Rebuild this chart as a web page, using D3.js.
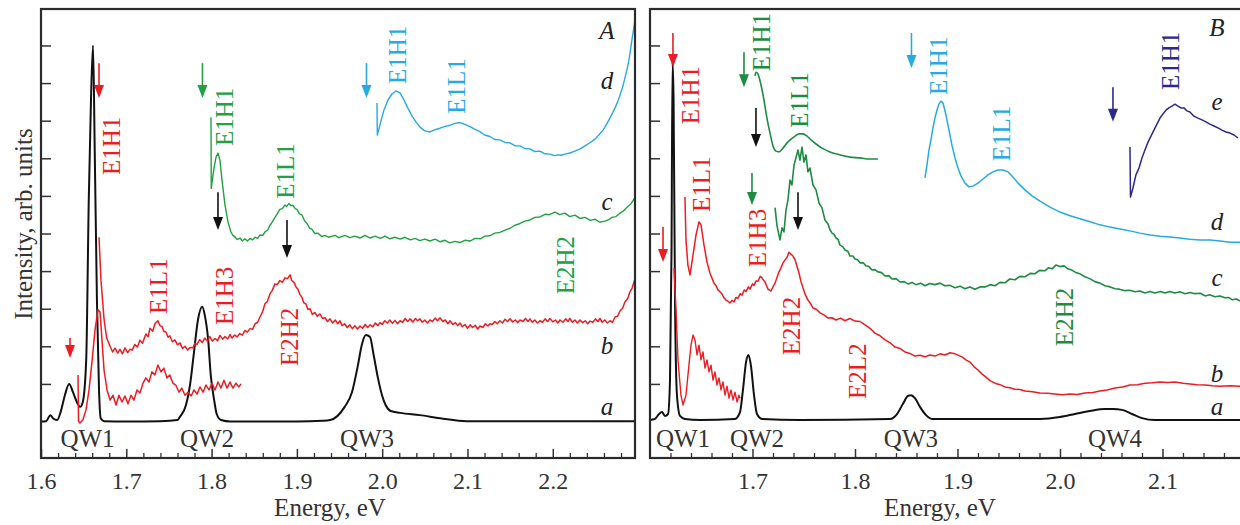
<!DOCTYPE html>
<html><head><meta charset="utf-8">
<script src="https://cdn.jsdelivr.net/npm/d3@7"></script>
<style>
html,body{margin:0;padding:0;background:#fff;}
svg{display:block;}
</style></head>
<body>
<svg id="chart" width="1240" height="525"></svg>
<script>
// ---------------- DATA (Energy eV, intensity arb. units) ----------------
// Panel A
const aA = [[1.600,0],[1.606,0.01],[1.611,0.17],[1.614,0.09],[1.619,0.04],[1.623,0.25],[1.628,0.70],[1.633,1.0],[1.6375,0.78],[1.642,0.52],[1.646,0.39],[1.649,0.52],[1.653,1.64],[1.656,5.9],[1.6586,8.55],[1.661,10.0],[1.663,7.2],[1.6656,3.2],[1.668,0.84],[1.670,0.09],[1.674,0.01],[1.70,0],[1.74,0.01],[1.76,0.04],[1.763,0.13],[1.770,0.44],[1.7747,0.97],[1.779,1.77],[1.784,2.70],[1.789,3.05],[1.792,2.83],[1.796,2.17],[1.799,1.24],[1.803,0.57],[1.806,0.2],[1.811,0.04],[1.822,0],[1.90,0],[1.93,0.02],[1.939,0.04],[1.956,0.39],[1.9646,0.78],[1.9716,1.5],[1.976,2.03],[1.981,2.30],[1.9857,2.25],[1.990,1.77],[1.995,1.16],[1.9998,0.70],[2.004,0.44],[2.010,0.28],[2.021,0.23],[2.044,0.17],[2.068,0.09],[2.099,0.01],[2.296,0.01]];
const bA = [[1.668,4.9],[1.6703,3.76],[1.674,2.70],[1.677,2.22],[1.681,2.0],[1.684,1.85],[1.6868,1.95],[1.690,1.82],[1.6926,1.92],[1.6955,1.80],[1.6985,1.96],[1.7015,1.83],[1.7043,1.92],[1.707,1.90],[1.710,2.05],[1.713,1.98],[1.716,2.16],[1.719,2.08],[1.723,2.33],[1.7255,2.25],[1.7278,2.48],[1.731,2.40],[1.7336,2.60],[1.737,2.68],[1.7395,2.55],[1.742,2.52],[1.744,2.40],[1.7465,2.38],[1.749,2.24],[1.751,2.28],[1.754,2.12],[1.757,2.17],[1.760,2.04],[1.763,2.09],[1.766,1.94],[1.7688,2.00],[1.772,1.90],[1.7747,1.97],[1.778,1.96],[1.7805,2.08],[1.783,2.05],[1.786,2.18],[1.789,2.10],[1.792,2.22],[1.795,2.14],[1.798,2.26],[1.801,2.14],[1.804,2.21],[1.807,2.15],[1.8098,2.29],[1.813,2.19],[1.8157,2.26],[1.819,2.20],[1.8216,2.31],[1.824,2.22],[1.827,2.30],[1.830,2.25],[1.833,2.34],[1.836,2.30],[1.839,2.42],[1.842,2.38],[1.845,2.47],[1.848,2.45],[1.851,2.60],[1.854,2.64],[1.8567,2.78],[1.8595,2.90],[1.8626,3.13],[1.8655,3.20],[1.8685,3.40],[1.871,3.48],[1.8743,3.66],[1.877,3.64],[1.880,3.75],[1.883,3.70],[1.886,3.82],[1.889,3.80],[1.892,3.90],[1.894,3.75],[1.8966,3.70],[1.899,3.58],[1.9013,3.52],[1.9035,3.38],[1.906,3.30],[1.908,3.16],[1.9107,3.12],[1.913,2.98],[1.9154,3.00],[1.918,2.85],[1.921,2.90],[1.924,2.80],[1.927,2.86],[1.930,2.74],[1.933,2.76],[1.936,2.66],[1.9388,2.73],[1.942,2.62],[1.945,2.70],[1.948,2.60],[1.9505,2.68],[1.953,2.55],[1.956,2.60],[1.959,2.50],[1.962,2.57],[1.965,2.47],[1.968,2.55],[1.971,2.46],[1.974,2.54],[1.977,2.48],[1.980,2.58],[1.983,2.50],[1.9857,2.57],[1.989,2.52],[1.992,2.62],[1.995,2.55],[1.9974,2.63],[2.000,2.58],[2.003,2.68],[2.006,2.62],[2.009,2.70],[2.012,2.61],[2.015,2.69],[2.018,2.60],[2.0209,2.68],[2.024,2.64],[2.027,2.74],[2.030,2.66],[2.0326,2.73],[2.036,2.65],[2.039,2.74],[2.0415,2.68],[2.0443,2.73],[2.047,2.64],[2.050,2.70],[2.053,2.62],[2.056,2.70],[2.059,2.66],[2.062,2.75],[2.065,2.68],[2.0678,2.76],[2.071,2.66],[2.074,2.70],[2.077,2.60],[2.0795,2.68],[2.083,2.58],[2.086,2.63],[2.0885,2.55],[2.0912,2.62],[2.094,2.52],[2.097,2.58],[2.100,2.48],[2.103,2.57],[2.106,2.50],[2.109,2.56],[2.112,2.46],[2.1146,2.54],[2.118,2.50],[2.121,2.60],[2.124,2.54],[2.1264,2.60],[2.129,2.58],[2.132,2.66],[2.135,2.60],[2.138,2.68],[2.141,2.62],[2.144,2.72],[2.147,2.66],[2.1498,2.73],[2.153,2.65],[2.156,2.70],[2.159,2.63],[2.1615,2.70],[2.165,2.66],[2.168,2.74],[2.171,2.66],[2.1733,2.73],[2.176,2.64],[2.179,2.70],[2.182,2.62],[2.185,2.68],[2.188,2.64],[2.191,2.73],[2.194,2.66],[2.1967,2.74],[2.200,2.65],[2.203,2.70],[2.206,2.62],[2.2084,2.70],[2.212,2.64],[2.215,2.73],[2.218,2.66],[2.220,2.74],[2.223,2.64],[2.226,2.70],[2.229,2.62],[2.2319,2.70],[2.235,2.63],[2.238,2.68],[2.241,2.60],[2.2436,2.67],[2.247,2.64],[2.250,2.73],[2.253,2.66],[2.2553,2.74],[2.258,2.64],[2.261,2.70],[2.264,2.62],[2.267,2.68],[2.270,2.64],[2.273,2.78],[2.276,2.80],[2.2788,2.94],[2.282,3.02],[2.2846,3.18],[2.288,3.28],[2.2905,3.45],[2.293,3.55],[2.2964,3.80]];
const b2A = [[1.6434,1.24],[1.644,0.01],[1.6457,-0.04],[1.649,0.04],[1.6528,0.31],[1.6563,0.84],[1.660,1.64],[1.6633,2.43],[1.6668,2.97],[1.6692,2.91],[1.6715,2.17],[1.6739,1.37],[1.6774,0.84],[1.681,0.57],[1.6844,0.70],[1.688,0.44],[1.6914,0.70],[1.695,0.52],[1.6985,0.68],[1.702,0.47],[1.7055,0.70],[1.709,0.57],[1.7125,0.84],[1.716,0.76],[1.7196,1.02],[1.723,1.16],[1.7266,1.05],[1.730,1.32],[1.7336,1.24],[1.737,1.50],[1.7407,1.32],[1.744,1.42],[1.7477,1.16],[1.751,1.24],[1.7547,1.02],[1.758,0.97],[1.7618,0.78],[1.765,0.89],[1.7688,0.70],[1.7723,0.78],[1.776,0.68],[1.7794,0.84],[1.783,0.73],[1.7864,0.92],[1.790,0.78],[1.7934,0.97],[1.797,0.84],[1.8005,1.02],[1.804,0.84],[1.8075,1.05],[1.811,0.89],[1.8145,1.10],[1.818,0.89],[1.8216,1.05],[1.825,0.89],[1.8286,1.02],[1.832,0.92],[1.8345,1.0]];
const cA = [[1.7993,8.09],[1.7996,6.2],[1.8028,6.74],[1.8052,7.03],[1.8075,7.14],[1.8098,6.95],[1.8122,6.42],[1.8157,5.76],[1.8192,5.31],[1.8227,5.04],[1.8250,4.95],[1.8274,4.91],[1.830,4.84],[1.8333,4.88],[1.836,4.80],[1.839,4.86],[1.842,4.80],[1.845,4.87],[1.848,4.83],[1.8509,4.90],[1.854,4.87],[1.8567,4.96],[1.860,4.95],[1.8626,5.04],[1.866,5.10],[1.8685,5.22],[1.871,5.30],[1.8743,5.43],[1.877,5.52],[1.880,5.64],[1.883,5.66],[1.886,5.76],[1.888,5.72],[1.8907,5.80],[1.893,5.74],[1.8954,5.75],[1.898,5.66],[1.900,5.64],[1.903,5.52],[1.906,5.49],[1.909,5.34],[1.9118,5.27],[1.915,5.14],[1.9177,5.11],[1.921,5.00],[1.9247,5.01],[1.929,4.92],[1.933,4.95],[1.937,4.90],[1.9447,4.95],[1.949,4.89],[1.9564,4.95],[1.962,4.89],[1.968,4.93],[1.974,4.88],[1.9798,4.95],[1.986,4.88],[1.9916,4.93],[1.998,4.87],[2.0033,4.93],[2.009,4.86],[2.015,4.90],[2.021,4.85],[2.0267,4.90],[2.033,4.83],[2.0385,4.87],[2.044,4.81],[2.050,4.85],[2.056,4.80],[2.062,4.85],[2.068,4.78],[2.0736,4.82],[2.079,4.75],[2.0853,4.79],[2.091,4.76],[2.097,4.82],[2.103,4.80],[2.1088,4.87],[2.115,4.86],[2.1205,4.93],[2.126,4.94],[2.132,5.01],[2.138,5.03],[2.144,5.09],[2.150,5.14],[2.1557,5.22],[2.161,5.26],[2.1674,5.33],[2.173,5.36],[2.179,5.43],[2.185,5.44],[2.1909,5.51],[2.196,5.50],[2.2026,5.57],[2.208,5.50],[2.2143,5.54],[2.220,5.45],[2.226,5.49],[2.232,5.40],[2.2377,5.43],[2.244,5.35],[2.2495,5.38],[2.255,5.30],[2.2612,5.33],[2.265,5.36],[2.2694,5.43],[2.274,5.45],[2.2788,5.54],[2.283,5.60],[2.287,5.70],[2.292,5.80],[2.2964,5.96]];
const dA = [[1.9939,8.47],[1.9943,7.62],[1.9974,7.89],[2.002,8.28],[2.0068,8.55],[2.0115,8.71],[2.016,8.79],[2.0209,8.74],[2.0256,8.55],[2.030,8.34],[2.035,8.12],[2.0396,7.97],[2.0443,7.83],[2.050,7.73],[2.056,7.70],[2.062,7.76],[2.0678,7.80],[2.0736,7.85],[2.0795,7.88],[2.0853,7.93],[2.0912,7.95],[2.097,7.90],[2.103,7.84],[2.1088,7.77],[2.1146,7.71],[2.120,7.62],[2.1264,7.58],[2.132,7.50],[2.138,7.49],[2.144,7.42],[2.1498,7.41],[2.156,7.33],[2.1615,7.33],[2.167,7.26],[2.1733,7.25],[2.179,7.18],[2.185,7.19],[2.191,7.12],[2.1967,7.11],[2.202,7.07],[2.206,7.09],[2.210,7.08],[2.2143,7.11],[2.220,7.14],[2.226,7.19],[2.232,7.25],[2.2377,7.33],[2.244,7.42],[2.2495,7.51],[2.254,7.62],[2.2589,7.75],[2.263,7.90],[2.267,8.07],[2.270,8.20],[2.273,8.34],[2.276,8.50],[2.2788,8.68],[2.282,8.90],[2.2846,9.14],[2.287,9.36],[2.2893,9.61],[2.2928,10.15],[2.2964,10.68]];

// Panel B
const aB = [[1.600,0.04],[1.6049,0.07],[1.6088,0.2],[1.6117,0.25],[1.6146,0.15],[1.6176,0.2],[1.6195,1.10],[1.621,4.56],[1.622,9.56],[1.623,8.55],[1.6244,3.23],[1.6263,0.70],[1.6293,0.15],[1.634,0.07],[1.6488,0.04],[1.6829,0.07],[1.6878,0.25],[1.6907,0.84],[1.6937,1.58],[1.6961,1.77],[1.6985,1.48],[1.7015,0.70],[1.7044,0.2],[1.7093,0.07],[1.7463,0.04],[1.8341,0.07],[1.841,0.2],[1.8468,0.47],[1.8517,0.68],[1.8546,0.70],[1.8585,0.62],[1.8634,0.39],[1.8693,0.17],[1.8751,0.07],[1.9805,0.07],[2.0,0.12],[2.0146,0.2],[2.0293,0.28],[2.0439,0.33],[2.0517,0.33],[2.0605,0.31],[2.0702,0.2],[2.08,0.09],[2.0927,0.04],[2.1854,0.04]];
const bB = [[1.6341,5.97],[1.6351,4.83],[1.637,4.16],[1.639,3.90],[1.642,4.43],[1.6449,4.96],[1.6478,5.31],[1.6498,5.23],[1.6527,4.69],[1.6556,4.24],[1.6585,3.95],[1.6624,3.68],[1.6643,3.62],[1.6663,3.50],[1.668,3.46],[1.6702,3.39],[1.672,3.30],[1.6741,3.23],[1.676,3.20],[1.678,3.15],[1.680,3.22],[1.682,3.18],[1.684,3.30],[1.6859,3.28],[1.688,3.40],[1.6898,3.36],[1.692,3.50],[1.6937,3.46],[1.696,3.58],[1.6976,3.52],[1.700,3.66],[1.7015,3.62],[1.7035,3.74],[1.7054,3.73],[1.7075,3.86],[1.7093,3.82],[1.7108,3.76],[1.7122,3.71],[1.7151,3.52],[1.718,3.47],[1.720,3.58],[1.722,3.68],[1.724,3.84],[1.7259,3.98],[1.728,4.10],[1.7298,4.22],[1.7318,4.30],[1.7337,4.37],[1.7356,4.50],[1.7376,4.45],[1.7395,4.40],[1.7415,4.30],[1.7435,4.12],[1.7454,3.95],[1.7473,3.72],[1.7493,3.55],[1.7517,3.36],[1.7541,3.23],[1.7565,3.14],[1.759,3.02],[1.7625,2.98],[1.7659,2.89],[1.770,2.83],[1.7737,2.75],[1.7775,2.76],[1.7815,2.70],[1.786,2.75],[1.7902,2.68],[1.795,2.74],[1.80,2.67],[1.805,2.66],[1.8098,2.57],[1.8146,2.48],[1.8195,2.35],[1.8244,2.28],[1.8293,2.17],[1.834,2.10],[1.839,1.98],[1.844,1.94],[1.8488,1.85],[1.8536,1.81],[1.8585,1.74],[1.8634,1.76],[1.8683,1.72],[1.873,1.77],[1.878,1.74],[1.883,1.80],[1.8878,1.77],[1.8927,1.83],[1.8976,1.80],[1.901,1.76],[1.9044,1.72],[1.9083,1.64],[1.9122,1.58],[1.916,1.46],[1.92,1.37],[1.924,1.26],[1.9278,1.18],[1.932,1.08],[1.9366,1.02],[1.9415,0.98],[1.9463,0.92],[1.951,0.90],[1.9561,0.86],[1.961,0.85],[1.9659,0.81],[1.973,0.79],[1.9805,0.76],[1.988,0.75],[1.9951,0.73],[2.0025,0.71],[2.0098,0.73],[2.017,0.72],[2.0244,0.76],[2.032,0.77],[2.039,0.81],[2.046,0.84],[2.0537,0.89],[2.061,0.92],[2.0683,0.97],[2.0756,0.98],[2.0829,1.02],[2.09,1.03],[2.0976,1.05],[2.105,1.04],[2.1122,1.05],[2.12,1.02],[2.1268,1.00],[2.134,0.98],[2.1415,0.97],[2.149,0.95],[2.1561,0.94],[2.166,0.95],[2.1756,0.94],[2.1854,0.94]];
const b2B = [[1.6234,4.08],[1.6254,2.97],[1.6273,1.64],[1.6302,0.70],[1.6322,0.44],[1.6351,0.70],[1.638,1.50],[1.640,2.03],[1.642,2.30],[1.6439,2.17],[1.6459,1.77],[1.6478,2.03],[1.6498,1.64],[1.6517,1.85],[1.6537,1.42],[1.6556,1.64],[1.6576,1.32],[1.6595,1.50],[1.6615,1.10],[1.6634,1.32],[1.6654,0.97],[1.6673,1.16],[1.6693,0.84],[1.6712,1.05],[1.6732,0.70],[1.6751,0.94],[1.6771,0.62],[1.679,0.84],[1.681,0.57],[1.6829,0.78],[1.6849,0.52],[1.6868,0.70],[1.6878,0.62]];
const cB = [[1.722,5.69],[1.7239,5.21],[1.7268,4.83],[1.7288,5.15],[1.7307,5.04],[1.7327,5.63],[1.7346,5.89],[1.7366,6.42],[1.7385,6.29],[1.7405,6.82],[1.7424,7.01],[1.7444,7.22],[1.7463,6.95],[1.7483,7.30],[1.7502,6.90],[1.7522,7.09],[1.7541,6.64],[1.7561,6.74],[1.759,6.29],[1.762,6.16],[1.7649,5.81],[1.7678,5.68],[1.7707,5.36],[1.7737,5.25],[1.7756,5.10],[1.7776,5.01],[1.7795,4.98],[1.7815,4.88],[1.7835,4.84],[1.7854,4.69],[1.788,4.65],[1.7902,4.56],[1.793,4.53],[1.7951,4.40],[1.798,4.40],[1.80,4.32],[1.8025,4.30],[1.8049,4.22],[1.808,4.22],[1.8107,4.14],[1.8136,4.12],[1.8166,4.03],[1.8195,4.04],[1.8224,3.98],[1.826,3.96],[1.8293,3.87],[1.833,3.88],[1.8361,3.79],[1.840,3.80],[1.8439,3.71],[1.848,3.72],[1.8517,3.66],[1.8556,3.70],[1.8595,3.64],[1.864,3.68],[1.8683,3.61],[1.873,3.67],[1.878,3.64],[1.883,3.68],[1.8878,3.61],[1.8927,3.62],[1.8976,3.56],[1.9025,3.60],[1.9073,3.53],[1.912,3.58],[1.9171,3.52],[1.922,3.58],[1.9268,3.58],[1.932,3.64],[1.9366,3.61],[1.9415,3.70],[1.9463,3.69],[1.951,3.79],[1.9561,3.77],[1.961,3.86],[1.9659,3.85],[1.971,3.94],[1.9756,3.93],[1.980,4.02],[1.9854,4.01],[1.989,4.09],[1.9922,4.06],[1.996,4.16],[2.0,4.12],[2.004,4.14],[2.0078,4.06],[2.012,4.02],[2.0156,3.96],[2.020,3.92],[2.0244,3.85],[2.029,3.80],[2.0341,3.72],[2.039,3.68],[2.0439,3.61],[2.049,3.58],[2.0537,3.53],[2.058,3.52],[2.0634,3.48],[2.068,3.49],[2.0732,3.45],[2.078,3.47],[2.0829,3.42],[2.088,3.46],[2.0927,3.42],[2.098,3.46],[2.1024,3.42],[2.107,3.46],[2.1122,3.42],[2.117,3.45],[2.122,3.40],[2.127,3.43],[2.1317,3.40],[2.137,3.41],[2.1415,3.34],[2.146,3.37],[2.1512,3.32],[2.156,3.34],[2.161,3.29],[2.1645,3.30],[2.1678,3.24],[2.172,3.26],[2.1756,3.21],[2.1854,3.18]];
const cSmoothB = [[1.7024,9.19],[1.7034,9.29],[1.7054,9.24],[1.7083,8.95],[1.7112,8.55],[1.7141,8.07],[1.7171,7.67],[1.72,7.33],[1.7229,7.19],[1.7259,7.17],[1.7298,7.27],[1.7337,7.41],[1.7376,7.51],[1.7415,7.59],[1.7454,7.65],[1.7493,7.65],[1.7532,7.59],[1.7571,7.49],[1.762,7.38],[1.7678,7.27],[1.7756,7.17],[1.7854,7.09],[1.7951,7.03],[1.8049,7.01],[1.8146,6.98],[1.8224,6.98]];
const dB = [[1.8683,6.48],[1.8702,6.82],[1.8722,7.22],[1.8741,7.49],[1.8761,7.81],[1.878,8.07],[1.88,8.28],[1.8819,8.44],[1.8839,8.52],[1.8859,8.47],[1.8888,8.15],[1.8917,7.75],[1.8946,7.35],[1.8976,7.01],[1.9005,6.74],[1.9034,6.53],[1.9073,6.34],[1.9112,6.24],[1.9151,6.26],[1.92,6.34],[1.9249,6.45],[1.9298,6.56],[1.9346,6.64],[1.9395,6.69],[1.9444,6.69],[1.9493,6.64],[1.9541,6.50],[1.959,6.34],[1.9659,6.16],[1.9727,6.00],[1.9805,5.86],[1.9902,5.70],[2.0,5.57],[2.0098,5.47],[2.0195,5.39],[2.0293,5.31],[2.039,5.23],[2.0488,5.17],[2.0585,5.12],[2.0683,5.07],[2.078,5.01],[2.0878,4.96],[2.0976,4.93],[2.1073,4.91],[2.117,4.88],[2.1268,4.85],[2.1366,4.83],[2.1463,4.83],[2.1561,4.80],[2.1659,4.77],[2.1756,4.77],[2.1854,4.76]];
const eB = [[2.0683,7.30],[2.0688,5.97],[2.0712,6.21],[2.0741,6.56],[2.0771,6.74],[2.08,7.01],[2.0829,7.22],[2.0859,7.43],[2.0888,7.59],[2.0917,7.75],[2.0946,7.91],[2.0976,8.07],[2.1005,8.18],[2.1034,8.28],[2.1063,8.34],[2.1093,8.39],[2.1122,8.44],[2.1151,8.39],[2.118,8.34],[2.121,8.34],[2.1239,8.26],[2.1268,8.23],[2.1307,8.12],[2.1346,8.07],[2.1385,8.02],[2.1424,7.97],[2.1463,7.91],[2.1502,7.86],[2.1541,7.81],[2.158,7.75],[2.1619,7.70],[2.1659,7.67],[2.1698,7.62],[2.1737,7.54]];

// Tick labels
const majorTicksA = [1.6, 1.7, 1.8, 1.9, 2.0, 2.1, 2.2];
const majorTicksB = [1.7, 1.8, 1.9, 2.0, 2.1];
const yTicks = [1, 2, 3, 4, 5, 6, 7, 8, 9, 10];

// Annotations: arrows [E, vTop, vBottom, colorKey]
const arrowsA = [[1.634,2.22,1.69,"red"],[1.668,9.53,8.60,"red"],[1.7893,9.53,8.60,"green"],[1.8075,6.10,5.09,"black"],[1.8884,5.36,4.35,"black"],[1.9816,9.53,8.60,"cyan"]];
const arrowsB = [[1.6224,10.33,9.43,"red"],[1.6917,9.82,8.89,"green2"],[1.7034,8.34,7.30,"black"],[1.6995,6.61,5.76,"green2"],[1.7444,6.10,5.09,"black"],[1.6127,5.17,4.24,"red"],[1.8551,10.33,9.40,"cyan"],[2.0517,8.89,7.97,"navy"]];
// Rotated transition labels [text, E, v, colorKey]
const labelsA = [["E1H1",1.6821,7.33,"red"],["E1H1",1.8157,8.10,"green"],["E1L1",1.8872,6.66,"green"],["E1L1",1.7383,3.60,"red"],["E1H3",1.8157,3.34,"red"],["E2H2",1.8919,2.25,"red"],["E2H2",2.2155,4.16,"green"],["E1H1",2.0185,9.75,"cyan"],["E1L1",2.0877,8.92,"cyan"]];
const labelsB = [["E1H1",1.640,8.68,"red"],["E1H1",1.7083,10.09,"green2"],["E1L1",1.7454,8.55,"green2"],["E1L1",1.6498,6.31,"red"],["E1H3",1.7044,4.88,"red"],["E2H2",1.7385,2.54,"red"],["E2L2",1.8029,1.34,"red"],["E2H2",2.0049,2.78,"green2"],["E1H1",1.881,9.46,"cyan"],["E1L1",1.9434,7.66,"cyan"],["E1H1",2.1083,9.59,"navy"]];
const qwA = [["QW1",1.6545],["QW2",1.7946],["QW3",1.9822]];
const qwB = [["QW1",1.6322],["QW2",1.7044],["QW3",1.8546],["QW4",2.0537]];
// Curve letters [text, v]
const lettersA = [["A",10.41],["d",9.08],["c",5.84],["b",2.03],["a",0.39]];
const lettersB = [["B",10.47],["e",8.50],["d",5.31],["c",3.84],["b",1.29],["a",0.39]];

// ---------------- STYLE ----------------
const FONT = "Liberation Serif";
const COLORS = {red:"#ec1c24", green:"#22a043", green2:"#1d8c42", cyan:"#27a9e1", navy:"#2c2a88", black:"#111111"};

const svg = d3.select("#chart");
const Y = d3.scaleLinear().domain([-0.97, 10.97]).range([458, 9]);

function panel(opt) {
  const X = d3.scaleLinear().domain(opt.domain).range(opt.range);
  const g = svg.append("g");
  const clipId = "clip" + opt.id;
  svg.append("defs").append("clipPath").attr("id", clipId)
    .append("rect").attr("x", opt.range[0]).attr("y", 9).attr("width", opt.range[1]-opt.range[0]).attr("height", 449);

  const line = d3.line().x(d => X(d[0])).y(d => Y(d[1]));
  const plot = g.append("g").attr("clip-path", `url(#${clipId})`);
  opt.series.forEach(s => {
    plot.append("path").datum(s.data)
      .attr("d", line.curve(s.smooth ? d3.curveMonotoneX : d3.curveLinear))
      .attr("fill", "none").attr("stroke", COLORS[s.color])
      .attr("stroke-width", s.w).attr("stroke-linejoin", "round");
  });

  opt.arrows.forEach(a => {
    const x = X(a[0]), y1 = Y(a[1]), y2 = Y(a[2]);
    plot.append("line").attr("x1", x).attr("x2", x).attr("y1", y1).attr("y2", y2 - 8)
      .attr("stroke", COLORS[a[3]]).attr("stroke-width", 1.6);
    plot.append("path").attr("d", `M${x-5},${y2-13} L${x+5},${y2-13} L${x},${y2} Z`)
      .attr("fill", COLORS[a[3]]);
  });

  opt.labels.forEach(l => {
    g.append("text").text(l[0])
      .attr("transform", `translate(${X(l[1])},${Y(l[2])}) rotate(-90)`)
      .attr("text-anchor", "middle").attr("dominant-baseline", "central")
      .attr("font-family", FONT).attr("font-size", 25).attr("fill", COLORS[l[3]]);
  });
  opt.qw.forEach(q => {
    g.append("text").text(q[0]).attr("x", X(q[1])).attr("y", 447)
      .attr("text-anchor", "middle").attr("font-family", FONT).attr("font-size", 25).attr("fill", "#333");
  });
  opt.letters.forEach(l => {
    g.append("text").text(l[0]).attr("x", opt.letterX).attr("y", Y(l[1]))
      .attr("text-anchor", "middle").attr("dominant-baseline", "central")
      .attr("font-family", FONT).attr("font-size", 25).attr("font-style", "italic").attr("fill", "#222");
  });

  const minor = d3.range(1.62, opt.domain[1], 0.02).filter(v => Math.abs(v*10 - Math.round(v*10)) > 0.01);
  const xAxis = d3.axisBottom(X).tickValues(opt.major).tickSize(-9).tickPadding(14).tickFormat(d3.format(".1f"));
  const ax = g.append("g").attr("transform", "translate(0,458)").call(xAxis);
  ax.attr("font-family", FONT);
  ax.select(".domain").remove();
  ax.selectAll("line").attr("stroke", "#333").attr("stroke-width", 1.5);
  ax.selectAll("text").attr("font-size", 24).attr("fill", "#333").attr("font-family", FONT);
  const mAxis = d3.axisBottom(X).tickValues(minor).tickSize(-5).tickFormat("");
  const mx = g.append("g").attr("transform", "translate(0,458)").call(mAxis);
  mx.select(".domain").remove();
  mx.selectAll("line").attr("stroke", "#333").attr("stroke-width", 1.3);

  const yAxis = d3.axisLeft(Y).tickValues(yTicks).tickSize(-10).tickFormat("");
  const ay = g.append("g").attr("transform", `translate(${opt.range[0]},0)`).call(yAxis);
  ay.select(".domain").remove();
  ay.selectAll("line").attr("stroke", "#333").attr("stroke-width", 1.5);

  g.append("rect").attr("x", opt.range[0]).attr("y", 9)
    .attr("width", opt.range[1]-opt.range[0]).attr("height", 449)
    .attr("fill", "none").attr("stroke", "#2b2b2b").attr("stroke-width", 2.2);

  g.append("text").text("Energy, eV").attr("x", opt.titleX).attr("y", 516)
    .attr("text-anchor", "middle").attr("font-family", FONT).attr("font-size", 25).attr("fill", "#333");
}

panel({
  id: "A", domain: [1.6, 2.2964], range: [41, 635], major: majorTicksA,
  series: [
    {data: aA, color: "black", w: 2, smooth: true},
    {data: b2A, color: "red", w: 1.5},
    {data: bA, color: "red", w: 1.5},
    {data: cA, color: "green", w: 1.4},
    {data: dA, color: "cyan", w: 1.4}
  ],
  arrows: arrowsA, labels: labelsA, qw: qwA, letters: lettersA, letterX: 607, titleX: 330
});
panel({
  id: "B", domain: [1.6, 2.1854], range: [650, 1250], major: majorTicksB,
  series: [
    {data: aB, color: "black", w: 2, smooth: true},
    {data: b2B, color: "red", w: 1.4},
    {data: bB, color: "red", w: 1.5},
    {data: cB, color: "green2", w: 1.6},
    {data: cSmoothB, color: "green2", w: 1.6, smooth: true},
    {data: dB, color: "cyan", w: 1.5},
    {data: eB, color: "navy", w: 1.5}
  ],
  arrows: arrowsB, labels: labelsB, qw: qwB, letters: lettersB, letterX: 1217, titleX: 940
});

svg.append("text").text("Intensity, arb. units")
  .attr("transform", "translate(23,224) rotate(-90)")
  .attr("text-anchor", "middle").attr("dominant-baseline", "central")
  .attr("font-family", FONT).attr("font-size", 25).attr("fill", "#333");
</script>
</body></html>
